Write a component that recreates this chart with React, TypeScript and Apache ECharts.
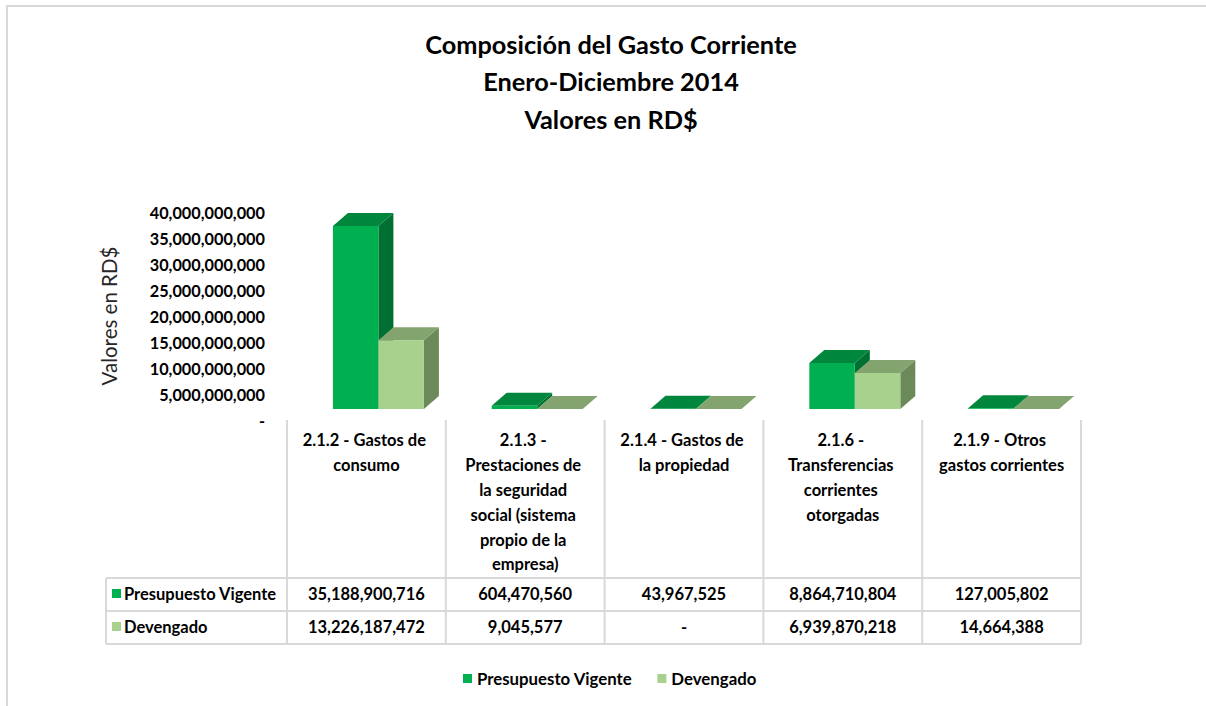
import React, { useEffect, useRef } from "react";
import * as echarts from "echarts";

const categories = [
  "2.1.2 - Gastos de consumo",
  "2.1.3 - Prestaciones de la seguridad social (sistema propio de la empresa)",
  "2.1.4 - Gastos de la propiedad",
  "2.1.6 - Transferencias corrientes otorgadas",
  "2.1.9 - Otros gastos corrientes",
];
const seriesNames = ["Presupuesto Vigente", "Devengado"];
const presupuesto = [35188900716, 604470560, 43967525, 8864710804, 127005802];
const devengado = [13226187472, 9045577, 0, 6939870218, 14664388];
const yTicks = { min: 0, max: 40000000000, interval: 5000000000 };
const titleLines = ["Composición del Gasto Corriente", "Enero-Diciembre 2014", "Valores en RD$"];
const axisName = "Valores en RD$";

const FONT = "Lato, 'Open Sans', sans-serif";
const FRONT = ["#00B050", "#A9D18E"];
const TOP = ["#00873D", "#83A46E"];
const SIDE = ["#007032", "#6C8A59"];

const GRID_L = 287;
const GRID_R = 1081;
const GRID_T = 212;
const GRID_B = 420;
const TABLE_L = 106;
const ROW_Y = [578, 611, 644];
const BODY = 16.5;

const fmt = (v: number) => (v === 0 ? "-" : v.toLocaleString("en-US"));

export default function App() {
  const ref = useRef<HTMLDivElement>(null);
  useEffect(() => {
    const chart = echarts.init(ref.current!, null, { renderer: "svg" });
    const n = categories.length;
    const colW = (GRID_R - GRID_L) / n;
    const lineStyle = { stroke: "#D9D9D9", lineWidth: 2 };
    const graphics: any[] = [];
    graphics.push({ type: "rect", shape: { x: 7, y: 6, width: 1220, height: 720 }, style: { fill: "none", stroke: "#D9D9D9", lineWidth: 2 }, silent: true });
    ROW_Y.forEach((y) => {
      graphics.push({ type: "line", shape: { x1: TABLE_L, y1: y, x2: GRID_R, y2: y }, style: lineStyle });
    });
    graphics.push({ type: "line", shape: { x1: TABLE_L, y1: ROW_Y[0], x2: TABLE_L, y2: ROW_Y[2] }, style: lineStyle });
    for (let i = 0; i <= n; i++) {
      const x = GRID_L + i * colW;
      graphics.push({ type: "line", shape: { x1: x, y1: GRID_B, x2: x, y2: ROW_Y[2] }, style: lineStyle });
    }
    const rows = [presupuesto, devengado];
    rows.forEach((vals, r) => {
      const cy = (ROW_Y[r] + ROW_Y[r + 1]) / 2 - 1;
      graphics.push({ type: "rect", shape: { x: 112, y: cy - 4.5, width: 9, height: 9 }, style: { fill: FRONT[r] } });
      graphics.push({
        type: "text", x: 124, y: cy,
        style: { text: seriesNames[r], fill: "#000", font: `bold ${BODY}px ${FONT}`, textAlign: "left", textVerticalAlign: "middle" },
      });
      vals.forEach((v, i) => {
        graphics.push({
          type: "text", x: GRID_L + (i + 0.5) * colW, y: cy,
          style: { text: fmt(v), fill: "#000", font: `bold ${BODY}px ${FONT}`, textAlign: "center", textVerticalAlign: "middle" },
        });
      });
    });

    const renderItem = (params: any, api: any) => {
      const s = params.seriesIndex;
      const idx = api.value(0);
      const val = api.value(1);
      const base = api.coord([idx, 0]);
      const top = api.coord([idx, val]);
      const barW = 45.5;
      const shift = 12;
      const x0 = base[0] + shift - barW + s * barW;
      const x1 = x0 + barW;
      const yb = base[1] - 11;
      const yt = top[1] - 11;
      const dx = 15;
      const dy = -13;
      return {
        type: "group",
        children: [
          { type: "polygon", shape: { points: [[x1, yt], [x1 + dx, yt + dy], [x1 + dx, yb + dy], [x1, yb]] }, style: { fill: SIDE[s] } },
          { type: "polygon", shape: { points: [[x0, yt], [x0 + dx, yt + dy], [x1 + dx, yt + dy], [x1, yt]] }, style: { fill: TOP[s] } },
          { type: "rect", shape: { x: x0, y: yt, width: barW, height: Math.max(yb - yt, 0) }, style: { fill: FRONT[s] } },
        ],
      };
    };

    chart.setOption({
      animation: false,
      backgroundColor: "#fff",
      title: {
        text: titleLines.join("\n"),
        left: 606,
        top: 20,
        textAlign: "center",
        textStyle: { fontFamily: FONT, fontSize: 25.3, fontWeight: "bold", color: "#000", lineHeight: 37.5 },
      },
      legend: {
        left: 458,
        top: 665,
        icon: "rect",
        itemWidth: 9,
        itemHeight: 9,
        itemGap: 25,
        data: seriesNames,
        textStyle: { fontFamily: FONT, fontSize: 16.8, fontWeight: "bold", color: "#000" },
      },
      grid: { left: GRID_L, top: GRID_T, width: GRID_R - GRID_L, height: GRID_B - GRID_T, containLabel: false },
      xAxis: {
        type: "category",
        data: categories,
        axisLine: { show: false },
        axisTick: { show: false },
        axisLabel: {
          interval: 0,
          margin: 8,
          width: 131,
          overflow: "break",
          lineHeight: 24.8,
          fontFamily: FONT,
          fontSize: BODY,
          fontWeight: "bold",
          color: "#000",
          verticalAlign: "top",
        },
      },
      yAxis: {
        type: "value",
        min: yTicks.min,
        max: yTicks.max,
        interval: yTicks.interval,
        name: axisName,
        nameLocation: "middle",
        nameGap: 168,
        nameRotate: 90,
        nameTextStyle: { fontFamily: FONT, fontSize: 20.5, color: "#262626" },
        axisLine: { show: false },
        axisTick: { show: false },
        splitLine: { show: false },
        axisLabel: {
          margin: 22,
          formatter: (v: number) => fmt(v),
          fontFamily: FONT,
          fontSize: 16.3,
          fontWeight: "bold",
          color: "#000",
        },
      },
      series: [presupuesto, devengado].map((vals, s) => ({
        type: "custom",
        name: seriesNames[s],
        renderItem,
        itemStyle: { color: FRONT[s] },
        encode: { x: 0, y: 1 },
        data: vals.map((v, i) => [i, v]),
      })),
      graphic: graphics,
    });
    return () => chart.dispose();
  }, []);
  return <div ref={ref} style={{ position: "absolute", left: 0, top: 0, width: 1206, height: 706, background: "#fff" }} />;
}
